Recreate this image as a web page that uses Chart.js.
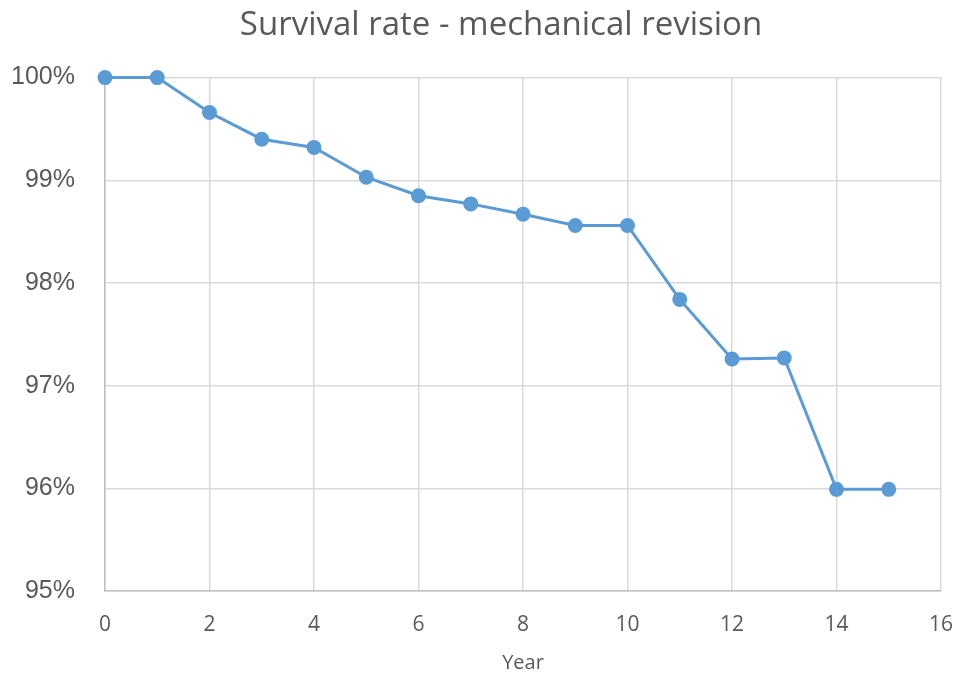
<!DOCTYPE html>
<html>
<head>
<meta charset="utf-8">
<script src="https://cdn.jsdelivr.net/npm/chart.js@4/dist/chart.umd.min.js"></script>
<style>
  html, body { margin: 0; padding: 0; background: #fff; }
  #wrap { width: 961px; height: 679px; }
</style>
</head>
<body>
<div id="wrap"><canvas id="grafico"></canvas></div>
<script>
const years = [0, 1, 2, 3, 4, 5, 6, 7, 8, 9, 10, 11, 12, 13, 14, 15];
const survival = [100, 100, 99.66, 99.4, 99.32, 99.03, 98.85, 98.77, 98.67, 98.56, 98.56, 97.84, 97.26, 97.27, 95.99, 95.99];
const xTicks = [0, 2, 4, 6, 8, 10, 12, 14, 16];
const yTicks = [95, 96, 97, 98, 99, 100];

const textColor = "#595959";
const lineColor = "#5B9BD5";

// nudge the title so it sits where the original one does
const titleShift = {
  id: "titleShift",
  afterLayout(chart) {
    if (chart.titleBlock) chart.titleBlock.left = 61;
  },
};

const ctx = document.getElementById("grafico").getContext("2d");
const grafico = new Chart(ctx, {
  type: "line",
  data: {
    datasets: [
      {
        label: "Survival rate",
        data: years.map((y, i) => ({ x: y, y: survival[i] })),
        borderColor: lineColor,
        backgroundColor: lineColor,
        borderWidth: 3,
        pointRadius: 6,
        pointHoverRadius: 6,
        tension: 0,
        clip: false,
      },
    ],
  },
  plugins: [titleShift],
  options: {
    responsive: true,
    maintainAspectRatio: false,
    animation: false,
    layout: { padding: { left: 13, right: 20, top: 0, bottom: 0 } },
    plugins: {
      legend: { display: false },
      tooltip: { enabled: false },
      title: {
        display: true,
        text: "Survival rate - mechanical revision",
        color: textColor,
        font: { family: "Open Sans", size: 33, weight: "normal" },
        padding: { top: 6, bottom: 32 },
      },
    },
    scales: {
      x: {
        type: "linear",
        min: xTicks[0],
        max: xTicks[xTicks.length - 1],
        afterBuildTicks: (axis) => {
          axis.ticks = xTicks.map((v) => ({ value: v }));
        },
        afterFit: (axis) => {
          axis.height = 88;
          axis.paddingLeft = 0;
          axis.paddingRight = 0;
        },
        grid: { color: "#D9D9D9", lineWidth: 1.5, drawTicks: false },
        border: { color: "#BFBFBF", width: 1.5 },
        ticks: {
          color: textColor,
          padding: 21,
          maxRotation: 0,
          font: { family: "Open Sans", size: 21 },
        },
        title: {
          display: true,
          text: "Year",
          color: textColor,
          font: { family: "Open Sans", size: 20 },
          padding: { top: 15, bottom: 4 },
        },
      },
      y: {
        min: yTicks[0],
        max: yTicks[yTicks.length - 1],
        afterBuildTicks: (axis) => {
          axis.ticks = yTicks.map((v) => ({ value: v }));
        },
        afterFit: (axis) => {
          axis.width = 92;
        },
        grid: { color: "#D9D9D9", lineWidth: 1.5, drawTicks: false },
        border: { color: "#BFBFBF", width: 1.5 },
        ticks: {
          color: textColor,
          padding: 30,
          font: { family: "Liberation Sans", size: 25 },
          callback: (v) => v + "%",
        },
      },
    },
  },
});
</script>
</body>
</html>
